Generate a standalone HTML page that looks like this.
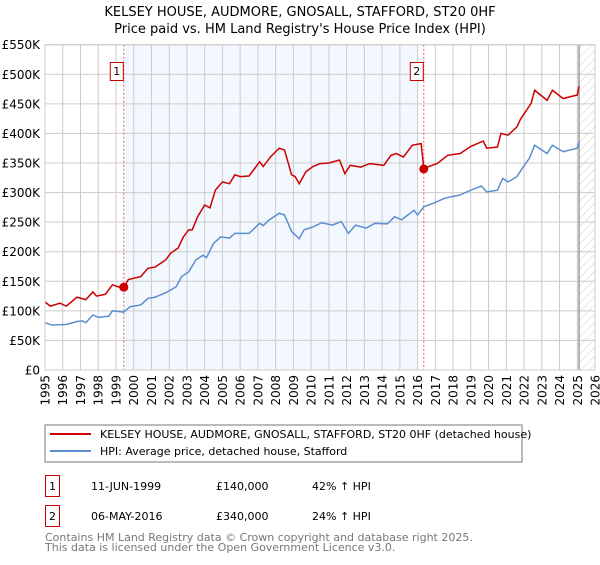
<!DOCTYPE html>
<html><head><meta charset="utf-8"><style>
body{margin:0;background:#fff;font-family:"Liberation Sans","DejaVu Sans",sans-serif;}
svg text{font-family:"DejaVu Sans","Liberation Sans",sans-serif;}
</style></head><body>
<svg id="c" width="600" height="560" viewBox="0 0 600 560" xmlns="http://www.w3.org/2000/svg">
<defs><pattern id="hatch" width="6" height="6" patternUnits="userSpaceOnUse" patternTransform="rotate(45)"><line x1="0" y1="0" x2="0" y2="6" stroke="#ccc" stroke-width="1"/></pattern></defs>
<text x="300" y="16" text-anchor="middle" font-size="13">KELSEY HOUSE, AUDMORE, GNOSALL, STAFFORD, ST20 0HF</text>
<text x="300" y="33" text-anchor="middle" font-size="13">Price paid vs. HM Land Registry's House Price Index (HPI)</text>
<g id="plot"></g>
<rect x="45" y="425" width="477" height="37" fill="#fff" stroke="#777"/>
<line x1="50" y1="434" x2="91" y2="434" stroke="#cc0000" stroke-width="2"/>
<text x="100" y="438" font-size="11">KELSEY HOUSE, AUDMORE, GNOSALL, STAFFORD, ST20 0HF (detached house)</text>
<line x1="50" y1="451" x2="91" y2="451" stroke="#5b8fd1" stroke-width="2"/>
<text x="100" y="455" font-size="11">HPI: Average price, detached house, Stafford</text>
<g>
<rect x="45.5" y="475.5" width="14" height="21" fill="#fff" stroke="#cc0000"/>
<text x="52.5" y="490" text-anchor="middle" font-size="11">1</text>
<text x="91" y="490" font-size="11">11-JUN-1999</text>
<text x="216" y="490" font-size="11">£140,000</text>
<text x="312" y="490" font-size="11">42% ↑ HPI</text></g>
<g>
<rect x="45.5" y="505.5" width="14" height="21" fill="#fff" stroke="#cc0000"/>
<text x="52.5" y="520" text-anchor="middle" font-size="11">2</text>
<text x="91" y="520" font-size="11">06-MAY-2016</text>
<text x="216" y="520" font-size="11">£340,000</text>
<text x="312" y="520" font-size="11">24% ↑ HPI</text></g>
<text x="45" y="541" font-size="11" fill="#777">Contains HM Land Registry data © Crown copyright and database right 2025.</text>
<text x="45" y="551" font-size="11" fill="#777">This data is licensed under the Open Government Licence v3.0.</text>
</svg>
<script>
const yearTicks=[1995,1996,1997,1998,1999,2000,2001,2002,2003,2004,2005,2006,2007,2008,2009,2010,2011,2012,2013,2014,2015,2016,2017,2018,2019,2020,2021,2022,2023,2024,2025,2026];
const valueTicks=[0,50,100,150,200,250,300,350,400,450,500,550];
const valueLabels=["£0","£50K","£100K","£150K","£200K","£250K","£300K","£350K","£400K","£450K","£500K","£550K"];
const propYears=[1995.0,1995.3,1995.85,1996.2,1996.8,1997.3,1997.7,1997.9,1998.4,1998.8,1999.2,1999.44,1999.7,2000.4,2000.8,2001.2,2001.5,2001.8,2002.1,2002.5,2002.8,2003.1,2003.3,2003.6,2004.0,2004.3,2004.6,2005.0,2005.4,2005.7,2006.0,2006.5,2007.1,2007.3,2007.7,2008.2,2008.5,2008.9,2009.1,2009.33,2009.7,2010.1,2010.5,2011.0,2011.6,2011.9,2012.2,2012.8,2013.3,2014.1,2014.5,2014.8,2015.2,2015.7,2016.2,2016.35,2017.1,2017.7,2018.4,2019.0,2019.7,2019.9,2020.5,2020.7,2021.1,2021.6,2021.8,2022.4,2022.6,2023.3,2023.6,2024.2,2025.0,2025.1];
const propValues=[115,108,113,108,123,119,132,125,128,144,140,140,153,158,172,174,180,186,198,206,225,237,237,259,279,274,304,318,315,330,327,328,352,344,360,375,372,330,327,315,335,344,349,350,355,332,346,343,349,346,363,366,360,380,383,341,349,363,366,378,387,375,377,400,397,411,424,451,473,456,473,459,465,480];
const hpiYears=[1995.0,1995.4,1996.2,1996.8,1997.1,1997.3,1997.7,1998.0,1998.6,1998.8,1999.44,1999.8,2000.4,2000.8,2001.2,2001.9,2002.4,2002.7,2003.1,2003.5,2003.9,2004.1,2004.5,2004.9,2005.4,2005.7,2006.5,2007.1,2007.3,2007.6,2008.2,2008.5,2008.9,2009.33,2009.6,2010.1,2010.6,2011.2,2011.7,2012.1,2012.5,2013.1,2013.6,2014.3,2014.7,2015.1,2015.8,2016.0,2016.35,2016.9,2017.5,2017.9,2018.4,2019.0,2019.6,2019.9,2020.5,2020.8,2021.1,2021.6,2021.9,2022.3,2022.6,2023.3,2023.6,2024.2,2025.0,2025.1];
const hpiValues=[80,76,77,82,83,80,93,89,91,100,98,107,110,121,123,132,141,158,166,186,194,190,214,225,223,231,231,248,244,253,265,262,234,222,237,242,249,245,251,231,245,240,248,247,259,254,270,262,276,282,290,293,296,304,311,301,304,324,318,327,341,358,380,366,380,369,375,386];
const saleYears=[1999.44,2016.35];
const saleValues=[140,340];
const saleLabels=["1","2"];
const L=45,R=595,T=44.7,B=370;
const x=v=>L+(v-1995)/(2026-1995)*(R-L);
const y=v=>B-v/550*(B-T);
const NS="http://www.w3.org/2000/svg";
const g=document.getElementById('plot');
function mk(t,a,p){const e=document.createElementNS(NS,t);for(const k in a)e.setAttribute(k,a[k]);(p||g).appendChild(e);return e;}
const shade=mk('rect',{x:x(saleYears[0]),y:T,width:x(2016.0)-x(saleYears[0]),height:B-T,fill:'#eef3fd',opacity:'0.7'});


const hatch=mk('rect',{x:x(2025.1),y:T,width:R-x(2025.1),height:B-T,fill:'url(#hatch)'});


yearTicks.forEach(yr=>{
 const l=mk('line',{x1:x(yr),x2:x(yr),y1:T,y2:B,stroke:'#ccc','stroke-width':1});
 
 
 const t=mk('text',{x:0,y:0,'font-size':12,'text-anchor':'end',transform:`translate(${x(yr)+4.5},375) rotate(-90)`});
 t.textContent=yr;
 
 
});
valueTicks.forEach((v,i)=>{
 const l=mk('line',{x1:L,x2:R,y1:y(v),y2:y(v),stroke:'#ccc','stroke-width':1});
 
 
 const t=mk('text',{x:40,y:y(v)+4.5,'font-size':12,'text-anchor':'end'});
 t.textContent=valueLabels[i];
 
 
});
const nowLine=mk('line',{x1:x(2025.1),x2:x(2025.1),y1:T,y2:B,stroke:'#999','stroke-width':1.5});


saleYears.forEach((yr,i)=>{
 const l=mk('line',{x1:x(yr),x2:x(yr),y1:T,y2:B,stroke:'#e06666','stroke-width':1,'stroke-dasharray':'2,2'});
 
 
});
const hp=mk('polyline',{points:hpiYears.map((v,i)=>x(v)+','+y(hpiValues[i])).join(' '),fill:'none',stroke:'#5b8fd1','stroke-width':1.5});


const pp=mk('polyline',{points:propYears.map((v,i)=>x(v)+','+y(propValues[i])).join(' '),fill:'none',stroke:'#cc0000','stroke-width':1.5});


saleYears.forEach((yr,i)=>{
 const c=mk('circle',{cx:x(yr),cy:y(saleValues[i]),r:4.5,fill:'#cc0000'});
 
 
 const bx=x(yr)-2-12;
 const r=mk('rect',{x:bx+0.5,y:62.5,width:13,height:18,fill:'#fff',stroke:'#cc0000'});
 
 
 const t=mk('text',{x:bx+7,y:75,'font-size':11,'text-anchor':'middle'});
 t.textContent=saleLabels[i];
 
 
});
const fr=mk('rect',{x:L,y:T,width:R-L,height:B-T,fill:'none',stroke:'#ccc'});


</script>
</body></html>
